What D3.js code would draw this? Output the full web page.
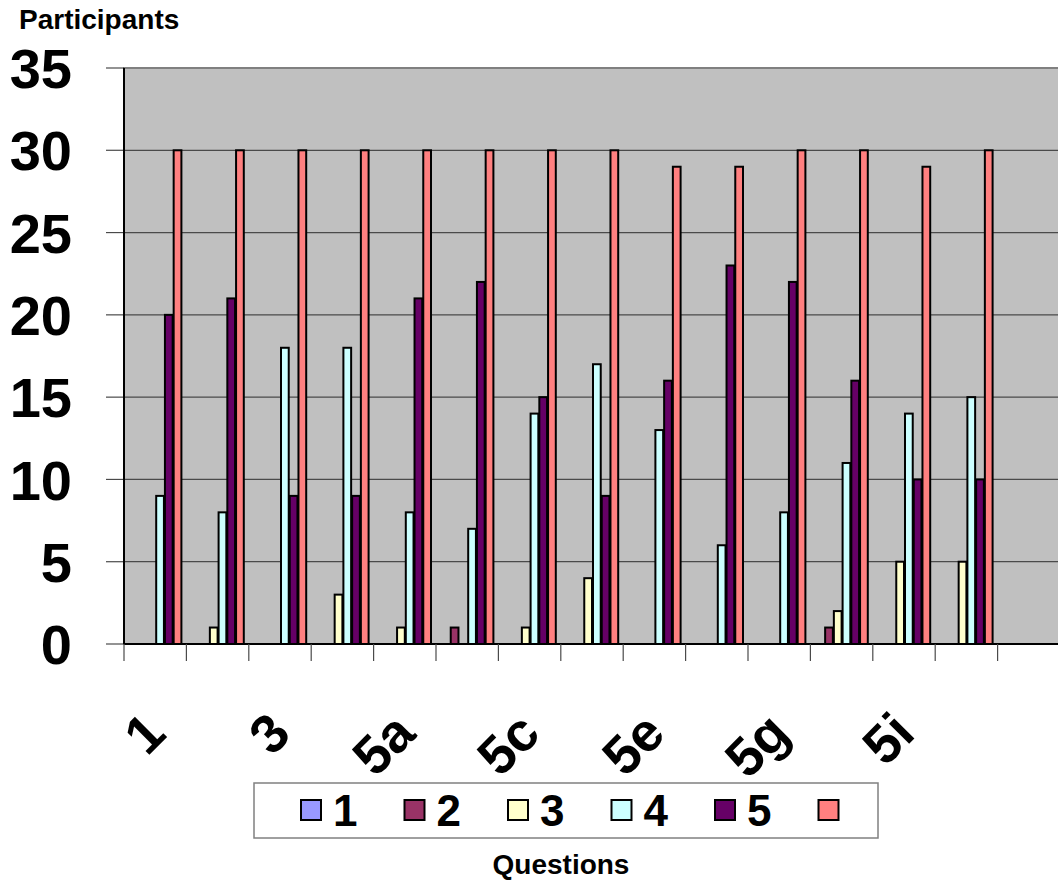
<!DOCTYPE html>
<html>
<head>
<meta charset="utf-8">
<script src="https://cdn.jsdelivr.net/npm/d3@7"></script>
<style>
  body { margin: 0; background: #fff; }
  text { font-family: "Liberation Sans", Arial, sans-serif; font-weight: bold; }
</style>
</head>
<body>
<div id="chart"></div>
<script>
// categories (last one is empty in the original sheet)
var categories = ["1", "2", "3", "4", "5a", "5b", "5c", "5d", "5e", "5f", "5g", "5h", "5i", "5j", ""];
var seriesNames = ["1", "2", "3", "4", "5", ""];
var seriesColors = ["#9999FF", "#993366", "#FFFFCC", "#CCFFFF", "#660066", "#FF8080"];

// values per series, one per category
var s1 = [0, 0, 0, 0, 0, 0, 0, 0, 0, 0, 0, 0, 0, 0];
var s2 = [0, 0, 0, 0, 0, 1, 0, 0, 0, 0, 0, 1, 0, 0];
var s3 = [0, 1, 0, 3, 1, 0, 1, 4, 0, 0, 0, 2, 5, 5];
var s4 = [9, 8, 18, 18, 8, 7, 14, 17, 13, 6, 8, 11, 14, 15];
var s5 = [20, 21, 9, 9, 21, 22, 15, 9, 16, 23, 22, 16, 10, 10];
var s6 = [30, 30, 30, 30, 30, 30, 30, 30, 29, 29, 30, 30, 29, 30];
var seriesValues = [s1, s2, s3, s4, s5, s6];
var yTicks = [0, 5, 10, 15, 20, 25, 30, 35];

var W = 1058, H = 881;
var plot = {left: 124, top: 68, width: 936, height: 576};

var svg = d3.select("#chart").append("svg")
  .attr("width", W)
  .attr("height", H);

var x = d3.scaleBand()
  .domain(d3.range(categories.length))
  .range([plot.left, plot.left + plot.width])
  .padding(0);

var x1 = d3.scaleBand()
  .domain(d3.range(seriesNames.length))
  .range([5, x.bandwidth() - 5]);

var y = d3.scaleLinear()
  .domain([0, 35])
  .range([plot.top + plot.height, plot.top]);

// plot background
svg.append("rect")
  .attr("x", plot.left)
  .attr("y", plot.top)
  .attr("width", plot.width)
  .attr("height", plot.height)
  .attr("fill", "#C0C0C0")
  .attr("stroke", "#808080")
  .attr("stroke-width", 2);

// gridlines
svg.append("g").selectAll("line")
  .data(yTicks.slice(1))
  .enter().append("line")
    .attr("x1", plot.left)
    .attr("x2", plot.left + plot.width)
    .attr("y1", function(d) { return y(d); })
    .attr("y2", function(d) { return y(d); })
    .attr("stroke", function(d) { return d == 35 ? "#808080" : "#4a4a4a"; })
    .attr("stroke-width", function(d) { return d == 35 ? 2 : 1.2; });

// y tick marks + labels
var yAxis = svg.append("g");
yAxis.selectAll("line")
  .data(yTicks)
  .enter().append("line")
    .attr("x1", plot.left - 18)
    .attr("x2", plot.left)
    .attr("y1", function(d) { return y(d); })
    .attr("y2", function(d) { return y(d); })
    .attr("stroke", "#4a4a4a")
    .attr("stroke-width", 1.2);
yAxis.selectAll("text")
  .data(yTicks)
  .enter().append("text")
    .attr("x", 72)
    .attr("y", function(d) { return y(d); })
    .attr("dy", "0.36em")
    .attr("text-anchor", "end")
    .attr("font-size", 56)
    .text(function(d) { return d; });

// bars
var groups = svg.append("g").selectAll("g")
  .data(d3.range(categories.length - 1))
  .enter().append("g")
    .attr("transform", function(i) { return "translate(" + x(i) + ",0)"; });

groups.selectAll("rect")
  .data(function(i) {
    return seriesValues.map(function(vals, s) { return {s: s, v: vals[i]}; })
      .filter(function(d) { return d.v > 0; });
  })
  .enter().append("rect")
    .attr("x", function(d) { return x1(d.s) + 1; })
    .attr("y", function(d) { return y(d.v); })
    .attr("width", x1.bandwidth() - 1)
    .attr("height", function(d) { return y(0) - y(d.v); })
    .attr("fill", function(d) { return seriesColors[d.s]; })
    .attr("stroke", "#000")
    .attr("stroke-width", 2);

// axis lines
svg.append("line")
  .attr("x1", plot.left).attr("x2", plot.left)
  .attr("y1", plot.top).attr("y2", plot.top + plot.height)
  .attr("stroke", "#000").attr("stroke-width", 2);
svg.append("line")
  .attr("x1", plot.left).attr("x2", plot.left + plot.width)
  .attr("y1", y(0)).attr("y2", y(0))
  .attr("stroke", "#000").attr("stroke-width", 2);

// x tick marks at category boundaries
svg.append("g").selectAll("line")
  .data(d3.range(categories.length + 1))
  .enter().append("line")
    .attr("x1", function(i) { return plot.left + i * x.bandwidth(); })
    .attr("x2", function(i) { return plot.left + i * x.bandwidth(); })
    .attr("y1", y(0))
    .attr("y2", y(0) + 17)
    .attr("stroke", "#4a4a4a")
    .attr("stroke-width", 1.2);

// x labels, every other category, rotated
svg.append("g").selectAll("text")
  .data(categories.filter(function(c, i) { return i % 2 == 0; }))
  .enter().append("text")
    .attr("text-anchor", "end")
    .attr("font-size", 54)
    .attr("transform", function(c) {
      var i = categories.indexOf(c);
      var cx = x(i) + x.bandwidth() / 2 + 13;
      return "translate(" + cx + ",736) rotate(-45)";
    })
    .text(function(c) { return c; });

// titles
svg.append("text")
  .attr("x", 19).attr("y", 29)
  .attr("font-size", 28)
  .text("Participants");
svg.append("text")
  .attr("x", 561).attr("y", 874)
  .attr("text-anchor", "middle")
  .attr("font-size", 28)
  .text("Questions");

// legend
var legend = svg.append("g");
legend.append("rect")
  .attr("x", 254).attr("y", 783)
  .attr("width", 624).attr("height", 55)
  .attr("fill", "#fff")
  .attr("stroke", "#808080")
  .attr("stroke-width", 1.5);
var item = legend.selectAll("g.item")
  .data(seriesNames)
  .enter().append("g")
    .attr("class", "item")
    .attr("transform", function(d, i) { return "translate(" + (301 + i * 103.5) + ",800)"; });
item.append("rect")
  .attr("width", 20).attr("height", 20)
  .attr("fill", function(d, i) { return seriesColors[i]; })
  .attr("stroke", "#000")
  .attr("stroke-width", 2);
item.append("text")
  .attr("x", 32).attr("y", 26)
  .attr("font-size", 44)
  .text(function(d) { return d; });
</script>
</body>
</html>
